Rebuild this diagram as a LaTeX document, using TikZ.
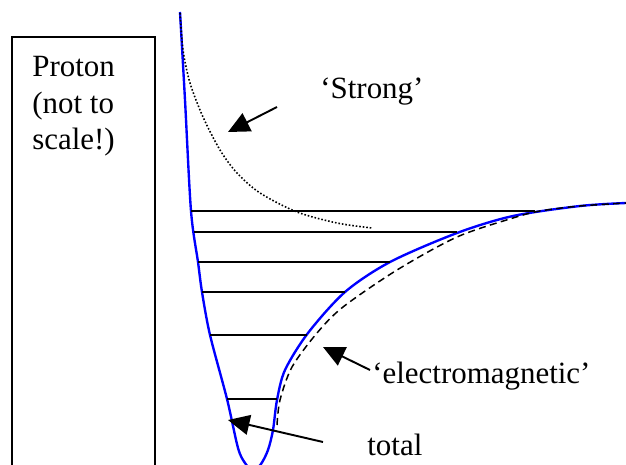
\documentclass[tikz,border=0pt]{standalone}
\usepackage{fontspec}
\setmainfont{Liberation Serif}
\usetikzlibrary{arrows.meta}

\begin{document}
\begin{tikzpicture}[x=0.2mm, y=-0.2mm,
    txt/.style={font=\fontsize{17.6}{20.5}\selectfont, inner sep=0pt, anchor=base west},
    pointer/.style={line width=1.1pt, -{Triangle[length=4.3mm, width=4mm]}},
    level/.style={line width=0.85pt}]
    \useasboundingbox (0,0) rectangle (626,464);

    % Protonas
    \draw[line width=0.85pt] (12,520) -- (12,37) -- (155,37) -- (155,520);
    \node[txt] (proton1) at (32,77) {Proton};
    \node[txt] (proton2) at (32,113) {(not to};
    \node[txt] (proton3) at (32,149) {scale!)};

    % Bendras potencialas
    \draw[blue, line width=1.35pt] plot[smooth, tension=0.5] coordinates {
        (180,12) (185,100) (191,211) (198,262) (202,292) (210,335) (227,399)
        (238,448) (245,463) (253,471) (261,464) (268,450) (273,430) (277,400)
        (285,370) (308,333) (345,292) (390,262) (457,233) (513,216)
        (580,206) (626,203)};

    % Elektromagnetinis
    \draw[line width=0.85pt, dash pattern=on 4pt off 2.5pt] plot[smooth, tension=0.5] coordinates {
        (277,425) (280,400) (292,367) (317,333) (343,307) (397,270)
        (457,237) (513,218) (540,211) (580,206) (626,203)};

    % Stiprioji
    \draw[line width=0.9pt, dash pattern=on 0.9pt off 1.1pt] plot[smooth, tension=0.5] coordinates {
        (180,13) (183,50) (190,83) (203,117) (220,150) (237,173) (260,193)
        (297,212) (337,223) (372,228)};

    % Lygmenys
    \foreach \y/\xl/\xr in {211/191/535, 232/194/457, 262/198/390,
                           292/202/345, 335/210/307, 399/227/277}
        \draw[level] (\xl,\y) -- (\xr,\y);

    % Rodyklės
    \coordinate (strongtail) at (277,107);
    \coordinate (strongtip) at (228,132);
    \coordinate (emtail) at (370,370);
    \coordinate (emtip) at (323,347);
    \coordinate (totaltail) at (323,442);
    \coordinate (totaltip) at (228,420);
    \draw[pointer] (strongtail) -- (strongtip);
    \draw[pointer] (emtail) -- (emtip);
    \draw[pointer] (totaltail) -- (totaltip);

    \node[txt] (strong) at (320,98) {‘Strong’};
    \node[txt] (em) at (372,383) {‘electromagnetic’};
    \node[txt] (total) at (367,455) {total};
\end{tikzpicture}
\end{document}
